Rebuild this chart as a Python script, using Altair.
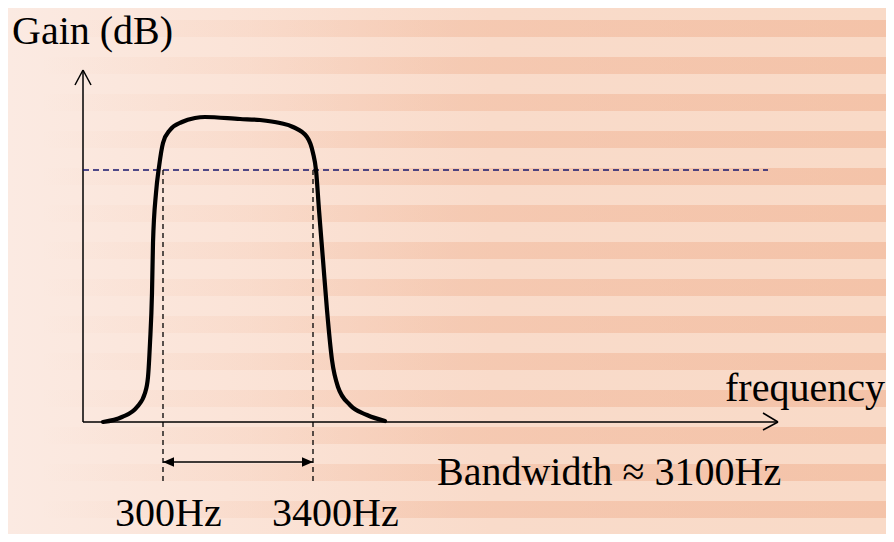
import altair as alt
import pandas as pd

# ---- data (schematic units: x = position along frequency axis, y = gain) ----
curve_x = [20, 39, 54, 62, 65, 67, 69, 70, 73, 76, 80, 87, 99, 112, 122, 157, 177, 197,
           210, 224, 230, 233, 236, 240, 244, 249, 255, 267, 284, 302]
curve_y = [0, 5, 15, 29, 45, 79, 129, 179, 229, 255, 279, 292, 300, 304, 305, 303, 302, 299,
           295, 285, 269, 252, 212, 162, 112, 62, 35, 17, 7, 1]

# axes with arrow heads (segments)
axis_x1 = [0, -8, 8, 0, 680, 680]
axis_y1 = [0, 337, 337, 0, 9, -8]
axis_x2 = [0, 0, 0, 695, 695, 695]
axis_y2 = [352, 352, 352, 0, 0, 0]

half_power_level = 252          # dashed -3 dB line
half_power_end = 685
cutoffs = [80, 230]             # 300 Hz and 3400 Hz positions
cutoff_bottom = -60
bw_arrow_y = -40

labels = ["Gain (dB)", "frequency", "Bandwidth \u2248 3100Hz", "300Hz", "3400Hz"]
label_x = [-71, 642, 354, 32, 189]
label_y = [378, 21, -63, -104, -104]

# background stripe bands (top edges, in picture rows converted to units)
stripe_top = [402, 365, 328, 291, 254, 217, 180, 143, 106, 69, 32, -5, -42, -79, -116]
stripe_height = 17

X = alt.Scale(domain=[-75, 803])
Y = alt.Scale(domain=[-112, 414])
FONT = "Liberation Serif, Times New Roman, serif"

def xe(f="x"):
    return alt.X(f"{f}:Q", scale=X, axis=None)

def ye(f="y"):
    return alt.Y(f"{f}:Q", scale=Y, axis=None)

# background
bg_df = pd.DataFrame({"x": [-75], "x2": [803], "y": [-112], "y2": [414]})
bg = alt.Chart(bg_df).mark_rect(
    fill=alt.LinearGradient(
        gradient="linear", x1=0, x2=1, y1=0, y2=0,
        stops=[alt.GradientStop(offset=0, color="#fbeae2"),
               alt.GradientStop(offset=0.25, color="#fbe4d8"),
               alt.GradientStop(offset=0.55, color="#f9dbca"),
               alt.GradientStop(offset=1, color="#f9dac7")])
).encode(x=xe(), x2="x2:Q", y=ye(), y2="y2:Q")

st_df = pd.DataFrame({"y": stripe_top,
                      "y2": [t - stripe_height for t in stripe_top]})
st_df["x"] = -43
st_df["x2"] = 803
stripes = alt.Chart(st_df).mark_rect(
    fill=alt.LinearGradient(
        gradient="linear", x1=0, x2=1, y1=0, y2=0,
        stops=[alt.GradientStop(offset=0, color="rgba(239,172,138,0)"),
               alt.GradientStop(offset=0.25, color="rgba(239,172,138,0.15)"),
               alt.GradientStop(offset=0.5, color="rgba(239,172,138,0.38)"),
               alt.GradientStop(offset=1, color="rgba(239,172,138,0.5)")])
).encode(x=xe(), x2="x2:Q", y=ye(), y2="y2:Q")

# axes
ax_df = pd.DataFrame({"x": axis_x1, "y": axis_y1, "x2": axis_x2, "y2": axis_y2})
axes = alt.Chart(ax_df).mark_rule(color="black", strokeWidth=1.5).encode(
    x=xe(), y=ye(), x2="x2:Q", y2="y2:Q")

# half power dashed line
hp_df = pd.DataFrame({"x": [0], "x2": [half_power_end], "y": [half_power_level]})
hp = alt.Chart(hp_df).mark_rule(color="#16166e", strokeWidth=1.5, strokeDash=[6, 4]).encode(
    x=xe(), x2="x2:Q", y=ye())

# cutoff dashed verticals
cv_df = pd.DataFrame({"x": cutoffs, "y": [half_power_level] * 2, "y2": [cutoff_bottom] * 2})
cv = alt.Chart(cv_df).mark_rule(color="black", strokeWidth=1.3, strokeDash=[5, 4]).encode(
    x=xe(), y=ye(), y2="y2:Q")

# bandwidth arrow
bw_df = pd.DataFrame({"x": [cutoffs[0]], "x2": [cutoffs[1]], "y": [bw_arrow_y]})
bw = alt.Chart(bw_df).mark_rule(color="black", strokeWidth=1.5).encode(
    x=xe(), x2="x2:Q", y=ye())
head_l = alt.Chart(pd.DataFrame({"x": [cutoffs[0]], "y": [bw_arrow_y]})).mark_point(
    shape="M-1,0L1,-0.85L1,0.85Z", filled=True, size=121, color="black", opacity=1,
    xOffset=5.5).encode(x=xe(), y=ye())
head_r = alt.Chart(pd.DataFrame({"x": [cutoffs[1]], "y": [bw_arrow_y]})).mark_point(
    shape="M1,0L-1,-0.85L-1,0.85Z", filled=True, size=121, color="black", opacity=1,
    xOffset=-5.5).encode(x=xe(), y=ye())

# response curve
cdf = pd.DataFrame({"x": curve_x, "y": curve_y, "o": list(range(len(curve_x)))})
curve = alt.Chart(cdf).mark_line(color="black", strokeWidth=4.2, interpolate="monotone",
                                 strokeCap="round", strokeJoin="round").encode(
    x=xe(), y=ye(), order="o:Q")

# labels
tdf = pd.DataFrame({"x": label_x, "y": label_y, "t": labels})
text = alt.Chart(tdf).mark_text(align="left", baseline="alphabetic", font=FONT,
                                fontSize=40, color="black").encode(
    x=xe(), y=ye(), text="t:N")

chart = alt.layer(bg, stripes, axes, hp, cv, bw, head_l, head_r, curve, text).properties(
    width=878, height=526, padding=0, autosize="none", background="#fbe7de"
).configure_view(stroke=None)

chart.save("out.html", embed_options={"renderer": "svg", "actions": False})
